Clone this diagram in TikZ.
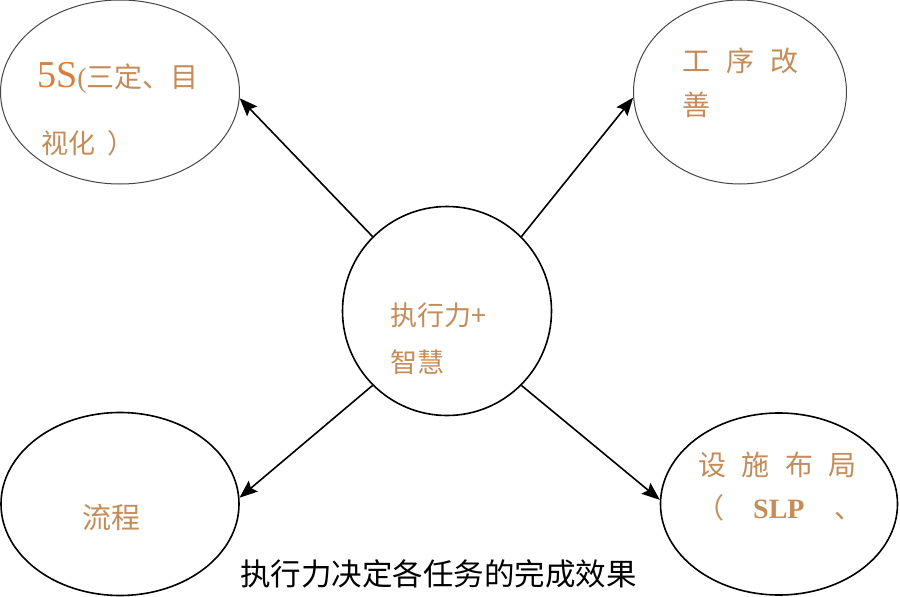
\documentclass[tikz,border=0pt]{standalone}
\usepackage{fontspec}
\setmainfont{Liberation Serif}
\newfontfamily\cjk{Noto Sans CJK SC}
\usetikzlibrary{shapes.geometric,arrows.meta}
\definecolor{txtor}{RGB}{196,140,88}
\definecolor{fiveS}{RGB}{214,128,58}
\definecolor{thinline}{RGB}{70,70,70}
\tikzset{
  thinell/.style={ellipse, draw=thinline, line width=1pt, inner sep=0pt},
  thickell/.style={ellipse, draw=black, line width=1.6pt, inner sep=0pt},
  arr/.style={line width=1.6pt, -{Stealth[length=18pt,width=14pt,inset=3pt]}},
  lbl/.style={anchor=west, inner sep=0pt, text=txtor},
}
\begin{document}
\begin{tikzpicture}[x=1pt,y=-1pt]
\useasboundingbox[fill=white] (0,0) rectangle (900,597);
% shapes
\node[thinell, minimum width=239pt, minimum height=184pt] (tl) at (120,92) {};
\node[thinell, minimum width=213pt, minimum height=184pt] (tr) at (740,92) {};
\node[thickell, minimum width=238pt, minimum height=183pt] (bl) at (120,504) {};
\node[thickell, minimum width=237pt, minimum height=182pt] (br) at (779,504) {};
\node[circle, draw=black, line width=1.6pt, minimum size=209pt, inner sep=0pt] (c) at (447,311) {};
% texts
\node[lbl] (t1a) at (37,78) {{\fontsize{38}{38}\selectfont\textcolor{fiveS}{5S}}{\fontsize{28}{28}\selectfont(\cjk 三定、目}};
\node[lbl] (t1b) at (41,143) {\fontsize{27}{27}\selectfont\cjk 视化\hspace{12pt}）};
\node[lbl] (t2a) at (682,61) {\fontsize{28}{28}\selectfont\cjk 工\hspace{16pt}序\hspace{16pt}改};
\node[lbl] (t2b) at (682,105) {\fontsize{28}{28}\selectfont\cjk 善};
\node[lbl] (t3a) at (390,315) {\fontsize{27}{27}\selectfont\cjk 执行力+};
\node[lbl] (t3b) at (390,362) {\fontsize{27}{27}\selectfont\cjk 智慧};
\node[lbl] (t4) at (82,517) {\fontsize{29}{29}\selectfont\cjk 流程};
\node[lbl] (t5a) at (698,465) {\fontsize{28}{28}\selectfont\cjk 设\hspace{15.5pt}施\hspace{15.5pt}布\hspace{15.5pt}局};
\node[lbl] (t5b) at (696,508) {\fontsize{28}{28}\selectfont{\cjk （}\hspace{29pt}\textbf{SLP}\hspace{30pt}{\cjk 、}};
\node[anchor=west, inner sep=0pt, text=black] (cap) at (240,574) {\fontsize{30.5}{30.5}\selectfont\cjk 执行力决定各任务的完成效果};
% connectors
\draw[arr] (c.135) -- (tl.-3);
\draw[arr] (c.45) -- (tr.183);
\draw[arr] (c.225) -- (bl.3);
\draw[arr] (c.-45) -- (br.178);
\end{tikzpicture}
\end{document}
